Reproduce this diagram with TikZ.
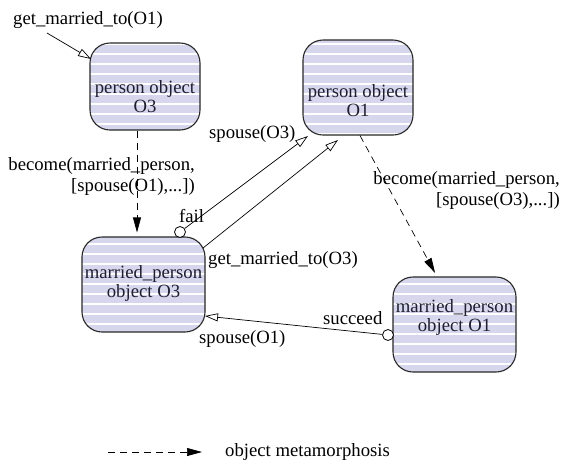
\documentclass[tikz,border=0pt]{standalone}
\usepackage{fontspec}
\setmainfont{Liberation Serif}
\usetikzlibrary{arrows.meta,patterns.meta}
\definecolor{objFill}{RGB}{214,214,236}
\definecolor{objLine}{RGB}{40,40,40}
\definecolor{objText}{RGB}{30,30,50}

\begin{document}
\begin{tikzpicture}[x=1pt, y=-1pt,
    every node/.style={font=\fontsize{18.7}{21}\selectfont},
    objbox/.style={draw=objLine, line width=1.1pt, rounded corners=20pt,
      preaction={fill=objFill},
      pattern={Lines[angle=0, distance=10pt, line width=1.4pt]},
      pattern color=white, inner sep=0pt},
    objtext/.style={align=center, inner sep=0pt, text=objText,
      font=\fontsize{18.7}{19}\selectfont},
    lbl/.style={inner sep=0pt},
    port/.style={circle, draw, fill=white, line width=0.8pt,
      minimum size=11pt, inner sep=0pt},
    msg/.style={-{Triangle[open, length=13pt, width=8pt]}, line width=0.7pt},
    morph/.style={-{Triangle[length=15pt, width=8pt]},
      dash pattern=on 7pt off 5pt, line width=0.7pt}]

  \useasboundingbox (0,0) rectangle (562,464);

  % objects
  \node[objbox, minimum width=110pt, minimum height=87pt] (p3) at (145,86.5) {};
  \node[objtext] (p3t) at (145,97) {person object\\O3};
  \node[objbox, minimum width=110pt, minimum height=95pt] (p1) at (358,87.5) {};
  \node[objtext] (p1t) at (358,101) {person object\\O1};
  \node[objbox, minimum width=123pt, minimum height=95pt] (m3) at (143.5,284.5) {};
  \node[objtext] (m3t) at (143.5,283) {married\_person\\object O3};
  \node[objbox, minimum width=123pt, minimum height=95pt] (m1) at (454.5,324.5) {};
  \node[objtext] (m1t) at (454.5,317) {married\_person\\object O1};

  % ports
  \node[port] (fail) at (180,232) {};
  \node[port] (succ) at (388,335) {};

  % free ends
  \coordinate (start) at (47,33);
  \coordinate (p3in) at (91,59);
  \coordinate (p1a) at (308,136);
  \coordinate (p1b) at (338,140);
  \coordinate (m3out) at (203,248);
  \coordinate (m3in) at (205,316);

  % messages
  \draw[msg] (start) -- (p3in);
  \draw[msg] (fail) -- (p1a);
  \draw[msg] (m3out) -- (p1b);
  \draw[msg] (succ) -- (m3in);

  % metamorphoses
  \draw[morph, shorten >=4pt] ([xshift=-8pt]p3.south) -- ([xshift=-8pt]p3.south |- m3.north);
  \draw[morph, shorten >=4pt] ([xshift=2pt]p1.south) -- ([xshift=-17.5pt]m1.north);

  % labels
  \node[lbl, anchor=west] (lgm1) at (13,20) {get\_married\_to(O1)};
  \node[lbl, anchor=east, align=right] (lbec3) at (195,176)
    {become(married\_person,\\{}[spouse(O1),...])};
  \node[lbl, anchor=east, align=right] (lbec1) at (560,190)
    {become(married\_person,\\{}[spouse(O3),...])};
  \node[lbl, anchor=west] (lsp3) at (209,134) {spouse(O3)};
  \node[lbl, anchor=west] (lfail) at (179,216) {fail};
  \node[lbl, anchor=west] (lgm3) at (208,260) {get\_married\_to(O3)};
  \node[lbl, anchor=west] (lsucc) at (323,318.5) {succeed};
  \node[lbl, anchor=west] (lsp1) at (199,339) {spouse(O1)};

  % legend
  \coordinate (lgs) at (108,452);
  \coordinate (lge) at (202,452);
  \draw[morph] (lgs) -- (lge);
  \node[lbl, anchor=west] (lgt) at (225,452) {object metamorphosis};
\end{tikzpicture}
\end{document}
